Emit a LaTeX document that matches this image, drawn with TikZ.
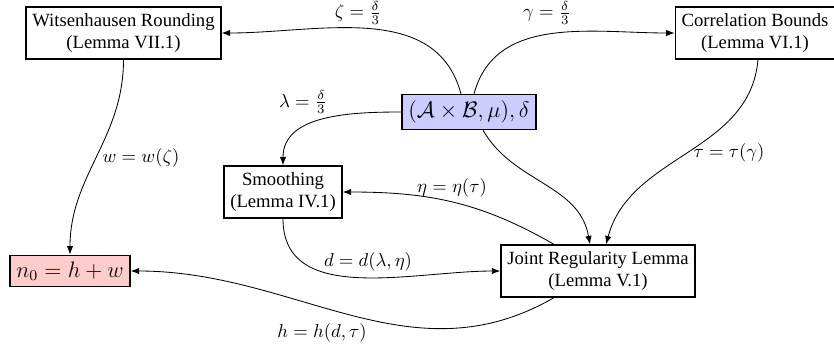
\documentclass[tikz,border=0pt]{standalone}
\usepackage[no-math]{fontspec}
\setmainfont{Liberation Serif}
\usetikzlibrary{arrows.meta}
\definecolor{srcblue}{RGB}{204,204,255}
\definecolor{outpink}{RGB}{255,204,204}
\tikzset{
  lemma/.style={draw, line width=0.9pt, fill=white, align=center, inner sep=3.3pt, font=\normalsize},
  bigbox/.style={draw, line width=0.9pt, inner sep=3.3pt, font=\large},
  conn/.style={-{Latex[length=4.5pt,width=3.4pt]}, line width=0.45pt},
  lbl/.style={inner sep=1pt, font=\normalsize}
}
\begin{document}
\begin{tikzpicture}[x=0.5356pt, y=-0.5356pt]
\useasboundingbox (0,0) rectangle (834,347);
% nodes
\node[lemma] (W) at (123.5,33) {Witsenhausen Rounding\\(Lemma VII.1)};
\node[lemma] (C) at (755,33) {Correlation Bounds\\(Lemma VI.1)};
\node[bigbox, fill=srcblue] (S) at (469,112) {$(\mathcal{A}\times\mathcal{B},\mu),\delta$};
\node[lemma] (Sm) at (283,192) {Smoothing\\(Lemma IV.1)};
\node[lemma] (J) at (598,271) {Joint Regularity Lemma\\(Lemma V.1)};
\node[bigbox, fill=outpink] (N) at (70,271) {$n_0 = h + w$};
% connectors
\draw[conn] ([xshift=-4.3pt]S.north) to[out=105,in=0] (W.east);
\draw[conn] ([xshift=2.7pt]S.north) to[out=75,in=180] (C.west);
\draw[conn] (S.west) to[out=180,in=90] (Sm.north);
\draw[conn] ([xshift=7.5pt]S.south) to[out=-60,in=100] ([xshift=-4.3pt]J.north);
\draw[conn] ([xshift=1.6pt]C.south) to[out=-95,in=75] ([xshift=4.3pt]J.north);
\draw[conn] (W.south) to[out=-90,in=90] (N.north);
\draw[conn] ([xshift=-23.6pt]J.north) to[out=150,in=0] (Sm.east);
\draw[conn] (Sm.south) to[out=-90,in=180] (J.west);
\draw[conn] ([xshift=-23.6pt]J.south) to[out=-150,in=0] (N.east);
% labels
\node[lbl] (lz) at (358,13) {$\zeta = \frac{\delta}{3}$};
\node[lbl] (lg) at (547,13) {$\gamma = \frac{\delta}{3}$};
\node[lbl] (ll) at (303,102) {$\lambda = \frac{\delta}{3}$};
\node[lbl] (le) at (452,188) {$\eta = \eta(\tau)$};
\node[lbl] (lt) at (729,153) {$\tau = \tau(\gamma)$};
\node[lbl] (lw) at (141,158) {$w = w(\zeta)$};
\node[lbl] (ld) at (368,262) {$d = d(\lambda,\eta)$};
\node[lbl] (lh) at (322,333) {$h = h(d,\tau)$};
\end{tikzpicture}
\end{document}
